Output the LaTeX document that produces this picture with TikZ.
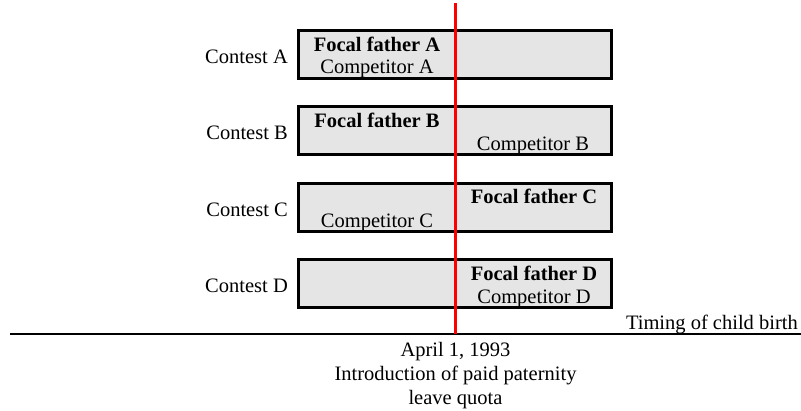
\documentclass[tikz,border=0pt]{standalone}
\usepackage{fontspec}
\setmainfont{Liberation Serif}
\usetikzlibrary{positioning}

\begin{document}
\begin{tikzpicture}[x=1pt, y=-1pt,
        lbl/.style={font=\fontsize{20.5}{24}\selectfont, inner sep=0pt, anchor=base},
        focal/.style={lbl, font=\fontsize{20.5}{24}\selectfont\bfseries},
        bar/.style={draw, line width=2.6pt, fill=gray!20, minimum width=312.5pt, minimum height=48pt, inner sep=0pt}]
        \useasboundingbox (0,0) rectangle (801,410);
        % one row of the figure: bar and its name on the left
        \newcommand{\contestrow}[3]{
            \node[bar] (bar#1) at (455,#2) {};
            \node[lbl, anchor=base east] (name#1) at (288,#3) {Contest #1};
        }

        % contest A
        \contestrow{A}{54.7}{63}
        \node[focal] (focalA) at (377,51) {Focal father A};
        \node[lbl] (compA) at (377,73) {Competitor A};

        % contest B
        \contestrow{B}{130.7}{139}
        \node[focal] (focalB) at (377,127) {Focal father B};
        \node[lbl] (compB) at (533,150) {Competitor B};

        % contest C
        \contestrow{C}{207.7}{216}
        \node[focal] (focalC) at (534,203) {Focal father C};
        \node[lbl] (compC) at (377,227) {Competitor C};

        % contest D
        \contestrow{D}{283.7}{292}
        \node[focal] (focalD) at (534,280) {Focal father D};
        \node[lbl] (compD) at (534,303) {Competitor D};

        % time axis and the reform date
        \coordinate (axisL) at (10,334);
        \coordinate (axisR) at (801,334);
        \coordinate (quotaTop) at (455.5,3);
        \coordinate (quotaBot) at (455.5,334);
        \draw[line width=2pt] (axisL) -- (axisR);
        \node[lbl, anchor=base east] (timing) at (798,329) {Timing of child birth};
        \draw[red, line width=3pt] (quotaTop) -- (quotaBot);
        \node[lbl, anchor=north, align=center] (reform) at (455.5,342.5)
            {April 1, 1993\\Introduction of paid paternity\\leave quota};
    \end{tikzpicture}
\end{document}
